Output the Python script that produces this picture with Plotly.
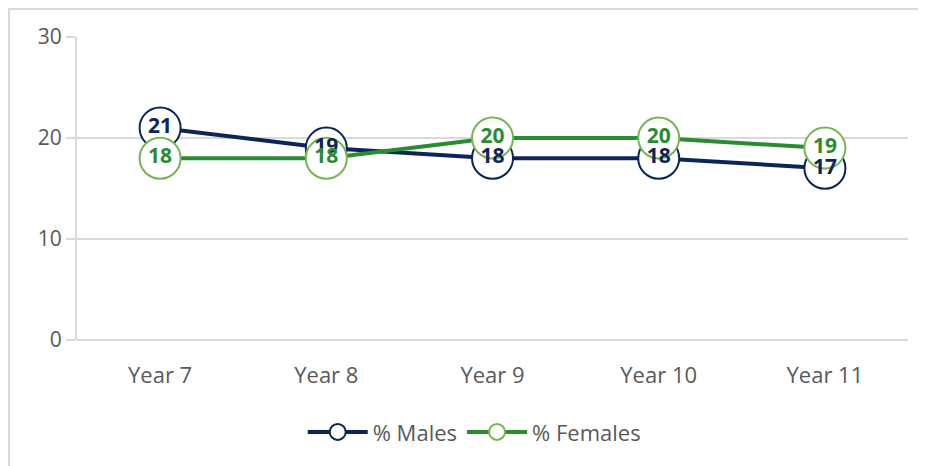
import plotly.graph_objects as go

years = ['Year 7', 'Year 8', 'Year 9', 'Year 10', 'Year 11']
males = [21, 19, 18, 18, 17]
females = [18, 18, 20, 20, 19]
y_ticks = [0, 10, 20, 30]

navy = '#0B2556'
green = '#2A8C32'
light_green = '#77B553'
grid = '#D9D9D9'
font = 'Open Sans, Liberation Sans, sans-serif'

fig = go.Figure()

# lines + open markers
fig.add_trace(go.Scatter(
    x=years, y=males, mode='lines+markers', name='% Males',
    line=dict(color=navy, width=4),
    marker=dict(size=41, color='white', line=dict(color=navy, width=2)),
))
fig.add_trace(go.Scatter(
    x=years, y=females, mode='lines+markers', name='% Females',
    line=dict(color=green, width=4),
    marker=dict(size=41, color='white', line=dict(color=light_green, width=2)),
))

# data labels on top of all markers
fig.add_trace(go.Scatter(
    x=years, y=males, mode='text', text=[str(v) for v in males],
    textfont=dict(family=font, size=21, color=navy, weight='bold'),
    showlegend=False, hoverinfo='skip'
))
fig.add_trace(go.Scatter(
    x=years, y=females, mode='text', text=[str(v) for v in females],
    textfont=dict(family=font, size=21, color=green, weight='bold'),
    showlegend=False, hoverinfo='skip'
))

# chart frame (only top and left edges visible)
fig.add_shape(type='rect', xref='paper', yref='paper',
              x0=-0.0818, x1=1.2, y0=-0.6, y1=1.0924,
              line=dict(color=grid, width=2), layer='below')

fig.update_layout(
    width=926, height=466,
    margin=dict(l=69, r=26, t=29, b=134),
    plot_bgcolor='white', paper_bgcolor='white',
    font=dict(family=font, size=21, color='#595959'),
    xaxis=dict(
        range=[-0.5, 4.5],
        showgrid=False, showline=False, zeroline=False, ticks='',
        ticklabelstandoff=20,
        tickfont=dict(size=22, color='#595959'),
    ),
    yaxis=dict(
        range=[0, 30], tickvals=y_ticks, showgrid=True, gridcolor=grid, gridwidth=2,
        zeroline=True, zerolinecolor=grid, zerolinewidth=2,
        showline=True, linecolor=grid, linewidth=2,
        ticks='outside', ticklen=9, tickcolor=grid, tickwidth=2,
        tickfont=dict(size=21, color='#595959'),
    ),
    legend=dict(orientation='h', x=0.478, xanchor='center', y=-0.304, yanchor='middle',
                font=dict(size=22, color='#595959'), itemwidth=60),
    showlegend=True,
)

fig.write_html('out.html')
